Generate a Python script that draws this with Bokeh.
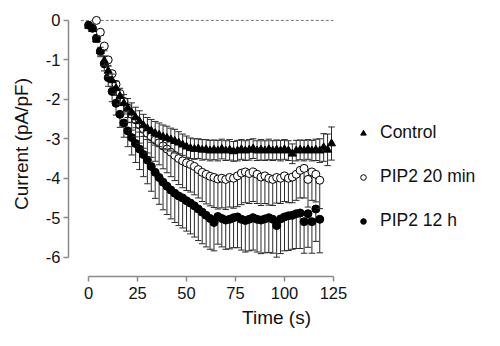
from bokeh.plotting import figure
from bokeh.models import Range1d, FixedTicker, Legend, LegendItem, ColumnDataSource
from bokeh.embed import file_html
from bokeh.resources import INLINE

# ---------------- data ----------------
control_t = [0, 2, 4, 6, 8, 10, 12, 14, 16, 18, 20, 22, 24, 26, 28, 30, 32, 34, 36, 38,
             40, 42, 44, 46, 48, 50, 52, 54, 56, 58, 60, 62, 64, 66, 68, 70, 72, 74, 76, 78,
             80, 82, 84, 86, 88, 90, 92, 94, 96, 98, 100, 102, 104, 106, 108, 110, 112, 114,
             116, 118, 120, 122, 124]
control_v = [-0.14, -0.22, -0.48, -0.78, -1.02, -1.28, -1.52, -1.72, -1.92, -2.10, -2.22,
             -2.34, -2.46, -2.56, -2.66, -2.74, -2.80, -2.86, -2.90, -2.95, -2.98, -3.02,
             -3.06, -3.10, -3.15, -3.20, -3.24, -3.26, -3.25, -3.28, -3.27, -3.30, -3.28,
             -3.30, -3.26, -3.30, -3.28, -3.32, -3.30, -3.27, -3.30, -3.28, -3.25, -3.30,
             -3.28, -3.30, -3.27, -3.30, -3.28, -3.30, -3.27, -3.30, -3.38, -3.30, -3.28,
             -3.30, -3.27, -3.30, -3.28, -3.30, -3.22, -3.28, -3.12]
control_err = [0.05, 0.06, 0.08, 0.10, 0.12, 0.14, 0.16, 0.18, 0.20, 0.22, 0.24, 0.25, 0.26,
               0.27, 0.28, 0.28, 0.29, 0.30, 0.30, 0.30, 0.30, 0.29, 0.30, 0.28, 0.27, 0.27,
               0.26, 0.26, 0.25, 0.26, 0.25, 0.26, 0.25, 0.26, 0.25, 0.25, 0.26, 0.25, 0.26,
               0.25, 0.25, 0.26, 0.25, 0.25, 0.26, 0.25, 0.26, 0.25, 0.25, 0.26, 0.25, 0.25,
               0.25, 0.26, 0.25, 0.26, 0.25, 0.26, 0.27, 0.30, 0.35, 0.40, 0.42]

pip20_t = [4, 6, 8, 10, 12, 14, 16, 18, 20, 22, 24, 26, 28, 30, 32, 34, 36, 38, 40, 42, 44,
           46, 48, 50, 52, 54, 56, 58, 60, 62, 64, 66, 68, 70, 72, 74, 76, 78, 80, 82, 84,
           86, 88, 90, 92, 94, 96, 98, 100, 102, 104, 106, 108, 110, 112, 114, 116, 118]
pip20_v = [0.00, -0.30, -0.65, -1.00, -1.35, -1.62, -1.85, -2.05, -2.22, -2.38, -2.52,
           -2.65, -2.76, -2.86, -2.95, -3.03, -3.10, -3.18, -3.26, -3.34, -3.42, -3.50,
           -3.56, -3.61, -3.65, -3.70, -3.78, -3.85, -3.90, -3.95, -3.98, -4.02, -4.00,
           -4.03, -3.98, -4.00, -3.94, -3.87, -3.84, -3.88, -3.84, -3.90, -3.97, -3.94,
           -4.00, -4.03, -3.98, -4.00, -3.94, -4.00, -3.97, -3.90, -3.80, -3.75, -4.03,
           -3.84, -3.90, -4.05]
pip20_err = [0.05, 0.08, 0.12, 0.16, 0.20, 0.24, 0.28, 0.32, 0.36, 0.40, 0.43, 0.46, 0.48,
             0.50, 0.52, 0.54, 0.56, 0.58, 0.60, 0.62, 0.64, 0.66, 0.68, 0.70, 0.70, 0.72,
             0.72, 0.74, 0.75, 0.75, 0.76, 0.76, 0.75, 0.76, 0.75, 0.76, 0.78, 0.80, 0.78,
             0.76, 0.75, 0.74, 0.72, 0.70, 0.68, 0.66, 0.65, 0.64, 0.65, 0.62, 0.65, 0.66,
             0.70, 0.75, 0.70, 0.72, 0.70, 0.72]

pip12_t = [0, 2, 4, 6, 8, 10, 12, 14, 16, 18, 20, 22, 24, 26, 28, 30, 32, 34, 36, 38, 40,
           42, 44, 46, 48, 50, 52, 54, 56, 58, 60, 62, 64, 66, 68, 70, 72, 74, 76, 78, 80,
           82, 84, 86, 88, 90, 92, 94, 96, 98, 100, 102, 104, 106, 108, 110, 112, 114, 116,
           118]
pip12_v = [-0.12, -0.20, -0.45, -0.78, -1.10, -1.45, -1.80, -2.10, -2.38, -2.60, -2.80,
           -2.97, -3.12, -3.26, -3.40, -3.54, -3.70, -3.85, -3.98, -4.10, -4.20, -4.30,
           -4.38, -4.45, -4.50, -4.57, -4.63, -4.70, -4.78, -4.86, -4.94, -5.02, -5.12,
           -4.97, -5.02, -5.06, -5.04, -5.00, -4.98, -5.04, -5.07, -5.04, -5.00, -5.04,
           -5.06, -5.03, -5.00, -5.04, -5.20, -5.03, -4.98, -4.95, -4.94, -4.90, -4.88,
           -5.10, -4.90, -5.10, -4.78, -5.04]
pip12_err = [0.05, 0.07, 0.10, 0.14, 0.18, 0.22, 0.26, 0.30, 0.33, 0.36, 0.40, 0.44, 0.48,
             0.52, 0.56, 0.60, 0.63, 0.66, 0.68, 0.70, 0.72, 0.73, 0.74, 0.75, 0.76, 0.77,
             0.78, 0.79, 0.80, 0.80, 0.80, 0.78, 0.72, 0.70, 0.72, 0.74, 0.75, 0.76, 0.78,
             0.78, 0.80, 0.80, 0.82, 0.83, 0.85, 0.86, 0.88, 0.86, 0.80, 0.88, 0.86, 0.88,
             0.86, 0.88, 0.90, 0.80, 0.85, 0.80, 0.82, 0.85]

series_names = ["Control", "PIP2 20 min", "PIP2 12 h"]
x_ticks = [0, 25, 50, 75, 100, 125]
y_ticks = [-6, -5, -4, -3, -2, -1, 0]
y_tick_labels = ["-6", "-5", "-4", "-3", "-2", "-1", "0"]
zero_line_x = [-4, 125]
zero_line_y = [0, 0]

FONT = "Liberation Sans"
BAR = "#2a2a2a"

p = figure(width=484, height=330, output_backend="svg", toolbar_location=None,
           x_range=Range1d(-10.26, 202.1), y_range=Range1d(-6.49, 0.226),
           min_border_left=68, min_border_right=0, min_border_top=11, min_border_bottom=52)
p.outline_line_color = None
p.xgrid.visible = False
p.ygrid.visible = False
p.background_fill_color = "white"
p.border_fill_color = "white"

# axes
p.xaxis.bounds = (x_ticks[0], x_ticks[-1])
p.xaxis.ticker = FixedTicker(ticks=x_ticks)
p.yaxis.bounds = (y_ticks[0], y_ticks[-1])
p.yaxis.ticker = FixedTicker(ticks=y_ticks)
p.yaxis.major_label_overrides = {t: l for t, l in zip(y_ticks, y_tick_labels)}
for ax in (p.xaxis[0], p.yaxis[0]):
    ax.axis_line_color = "#8a8a8a"
    ax.axis_line_width = 1.5
    ax.major_tick_line_color = "#8a8a8a"
    ax.major_tick_line_width = 1.5
    ax.major_tick_out = 5
    ax.major_tick_in = 0
    ax.minor_tick_out = 0
    ax.minor_tick_in = 0
    ax.major_label_text_font = FONT
    ax.major_label_text_font_size = "16.5px"
    ax.major_label_text_color = "#111111"
    ax.axis_label_text_font = FONT
    ax.axis_label_text_font_size = "19px"
    ax.axis_label_text_font_style = "normal"
    ax.axis_label_text_color = "#111111"
p.xaxis.axis_label = "Time (s)"
p.yaxis.axis_label = "Current (pA/pF)"
p.xaxis.major_label_standoff = 5
p.xaxis.axis_label_standoff = 5
p.yaxis.major_label_standoff = 3
p.yaxis.axis_label_standoff = 11

# dashed zero line
p.line(zero_line_x, zero_line_y, line_color="#777777", line_width=1, line_dash="3 2")


def bars(t, v, err, up, down):
    lo = [a - e if down else a for a, e in zip(v, err)]
    hi = [a + e if up else a for a, e in zip(v, err)]
    src = ColumnDataSource(dict(t=t, v=v, lo=lo, hi=hi))
    p.segment(x0="t", y0="lo", x1="t", y1="hi", source=src, line_color=BAR, line_width=1)
    if down:
        p.scatter(x="t", y="lo", source=src, marker="dash", size=6.5, line_color=BAR, line_width=1)
    if up:
        p.scatter(x="t", y="hi", source=src, marker="dash", size=6.5, line_color=BAR, line_width=1)
    return src


s12 = bars(pip12_t, pip12_v, pip12_err, False, True)
r12 = p.scatter(x="t", y="v", source=s12, marker="circle", size=8,
                fill_color="black", line_color="black", line_width=1)
s20 = bars(pip20_t, pip20_v, pip20_err, False, True)
r20 = p.scatter(x="t", y="v", source=s20, marker="circle", size=8,
                fill_color="white", line_color="black", line_width=1)
sc = bars(control_t, control_v, control_err, True, True)
rc = p.scatter(x="t", y="v", source=sc, marker="triangle", size=8,
               fill_color="black", line_color="black", line_width=1)

legend = Legend(items=[LegendItem(label=series_names[0], renderers=[rc]),
                       LegendItem(label=series_names[1], renderers=[r20]),
                       LegendItem(label=series_names[2], renderers=[r12])],
                location=(288, 45))
legend.border_line_color = None
legend.background_fill_alpha = 0
legend.padding = 0
legend.margin = 0
legend.spacing = 23
legend.glyph_width = 14
legend.glyph_height = 20
legend.label_height = 20
legend.label_standoff = 10
legend.label_text_font = FONT
legend.label_text_font_size = "17.5px"
legend.label_text_color = "#111111"
legend.label_text_baseline = "middle"
p.add_layout(legend)

open("out.html", "w").write(file_html(p, INLINE))
